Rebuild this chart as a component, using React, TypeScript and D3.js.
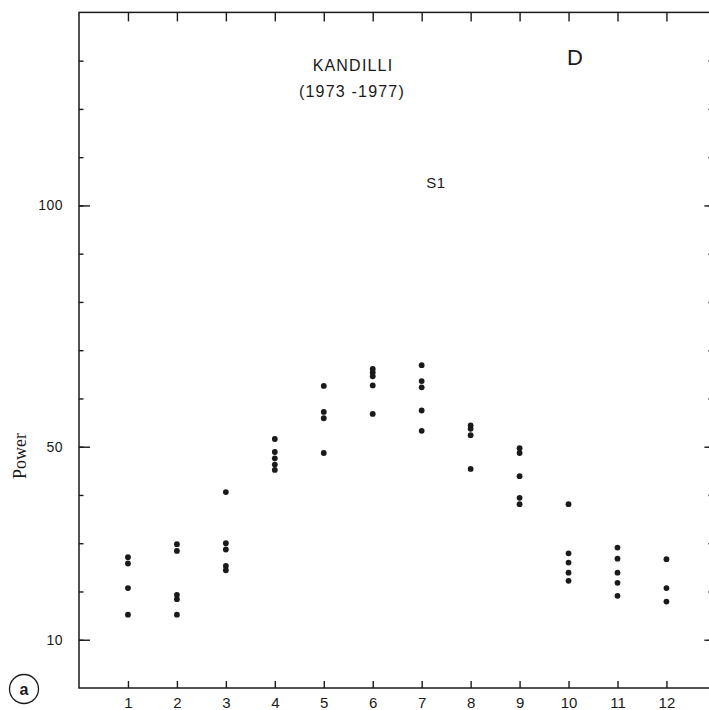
import { useEffect, useRef } from 'react'
import * as d3 from 'd3'

const months = [1, 2, 3, 4, 5, 6, 7, 8, 9, 10, 11, 12]
const monthLabels = ['1', '2', '3', '4', '5', '6', '7', '8', '9', '10', '11', '12']

// S1 power values per month
const power: number[][] = [
  [27.1, 25.8, 20.7, 15.2],
  [29.8, 28.4, 19.3, 18.4, 15.2],
  [40.6, 30.0, 28.7, 25.3, 24.4],
  [51.6, 48.9, 47.6, 46.3, 45.2],
  [62.6, 57.2, 55.9, 48.7],
  [66.1, 65.4, 64.6, 62.7, 56.8],
  [66.9, 63.6, 62.3, 57.5, 53.3],
  [54.4, 53.7, 52.4, 45.4],
  [49.7, 48.7, 43.9, 39.4, 38.1],
  [38.1, 27.9, 26.0, 23.9, 22.2],
  [29.1, 26.8, 23.9, 21.8, 19.1],
  [26.7, 20.7, 17.9],
]

const minorTicks = [10, 20, 30, 40, 50, 60, 70, 80, 90, 100, 110, 120, 130]
const labeledTicks = [10, 50, 100]

const W = 709
const H = 710
const ink = '#1a1a1a'
const letterFont = '"Liberation Sans", Arial, sans-serif'

export default function App() {
  const ref = useRef<SVGSVGElement | null>(null)

  useEffect(() => {
    const svg = d3.select(ref.current)
    svg.selectAll('*').remove()

    const x = d3.scaleLinear().domain([0, 13]).range([79, 715.4])
    const y = d3.scaleLinear().domain([0, 140]).range([688, 12.4])

    const style = (g: any) => {
      g.select('.domain').remove()
      g.selectAll('line').attr('stroke', ink).attr('stroke-width', 1.4)
      g.selectAll('text').attr('fill', ink).attr('font-family', letterFont)
    }

    // frame
    svg
      .append('rect')
      .attr('x', x(0))
      .attr('y', y(140))
      .attr('width', x(13) - x(0))
      .attr('height', y(0) - y(140))
      .attr('fill', 'none')
      .attr('stroke', ink)
      .attr('stroke-width', 1.5)

    // left axis: minor and labelled ticks
    svg
      .append('g')
      .attr('transform', `translate(${x(0)},0)`)
      .call(d3.axisLeft(y).tickValues(minorTicks).tickSize(-4.5).tickFormat(() => ''))
      .call(style)

    svg
      .append('g')
      .attr('transform', `translate(${x(0)},0)`)
      .call(d3.axisLeft(y).tickValues(labeledTicks).tickSize(-11).tickPadding(16).tickFormat(d3.format('d')))
      .call(style)
      .call((g) => g.selectAll('text').attr('font-size', 14).attr('letter-spacing', 0.5))

    // right axis (mostly off the page)
    svg
      .append('g')
      .attr('transform', `translate(${x(13)},0)`)
      .call(d3.axisRight(y).tickValues(minorTicks).tickSize(-7).tickFormat(() => ''))
      .call(style)

    svg
      .append('g')
      .attr('transform', `translate(${x(13)},0)`)
      .call(d3.axisRight(y).tickValues(labeledTicks).tickSize(-11).tickFormat(() => ''))
      .call(style)

    // top axis
    svg
      .append('g')
      .attr('transform', `translate(0,${y(140)})`)
      .call(d3.axisTop(x).tickValues(months).tickSize(-9).tickFormat(() => ''))
      .call(style)

    // bottom axis
    svg
      .append('g')
      .attr('transform', `translate(0,${y(0)})`)
      .call(
        d3
          .axisBottom(x)
          .tickValues(months)
          .tickSize(-7)
          .tickPadding(9)
          .tickFormat((d, i) => monthLabels[i])
      )
      .call(style)
      .call((g) => g.selectAll('text').attr('font-size', 15))

    // points
    const points = months.flatMap((m, i) => power[i].map((v) => ({ m, v })))
    svg
      .append('g')
      .selectAll('circle')
      .data(points)
      .join('circle')
      .attr('cx', (d) => x(d.m))
      .attr('cy', (d) => y(d.v))
      .attr('r', 2.9)
      .attr('fill', ink)

    // annotations
    const txt = (s: string, tx: number, ty: number, size: number, spacing = 0) =>
      svg
        .append('text')
        .attr('x', tx)
        .attr('y', ty)
        .attr('text-anchor', 'middle')
        .attr('font-family', letterFont)
        .attr('font-size', size)
        .attr('letter-spacing', spacing)
        .attr('fill', ink)
        .text(s)

    txt('KANDILLI', 353, 71, 16, 1.2)
    txt('(1973 -1977)', 352, 97, 16, 1.2)
    txt('S1', 436, 188, 15, 0.5)
    txt('D', 575, 65, 22)

    svg
      .append('text')
      .attr('transform', 'translate(26,456) rotate(-90)')
      .attr('text-anchor', 'middle')
      .attr('font-family', '"Liberation Serif", "Times New Roman", serif')
      .attr('font-size', 18)
      .attr('fill', ink)
      .text('Power')

    svg
      .append('circle')
      .attr('cx', 24)
      .attr('cy', 689)
      .attr('r', 14.5)
      .attr('fill', 'none')
      .attr('stroke', ink)
      .attr('stroke-width', 1.3)

    svg
      .append('text')
      .attr('x', 24)
      .attr('y', 695)
      .attr('text-anchor', 'middle')
      .attr('font-family', letterFont)
      .attr('font-weight', 'bold')
      .attr('font-size', 16)
      .attr('fill', ink)
      .text('a')
  }, [])

  return (
    <svg
      ref={ref}
      width={W}
      height={H}
      viewBox={`0 0 ${W} ${H}`}
      style={{ position: 'absolute', left: 0, top: 0, background: '#fff' }}
    />
  )
}
